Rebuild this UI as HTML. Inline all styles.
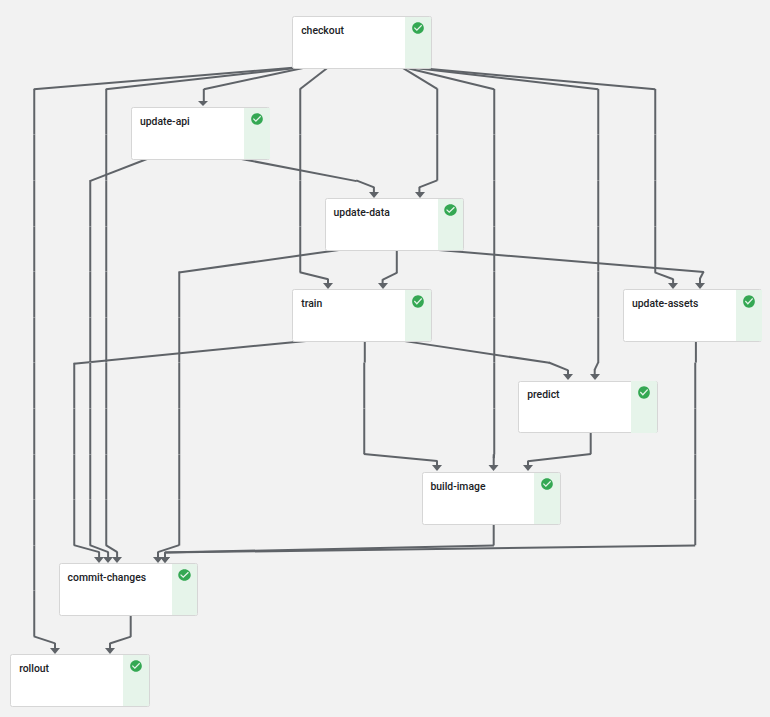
<!DOCTYPE html>
<html lang="en">
<head>
<meta charset="utf-8">
<title>Pipeline graph</title>
<style>
html,body{margin:0;padding:0;background:#f2f2f2;}
body{width:770px;height:717px;overflow:hidden;background:#f2f2f2;font-family:Roboto,"Liberation Sans",Arial,sans-serif;}
#graph{position:relative;width:770px;height:717px;overflow:hidden;background:#f2f2f2;}
#edges{position:absolute;left:0;top:0;}
#edges line{fill:none;stroke:#5f6368;stroke-width:2;stroke-linecap:butt;}
#edges polygon{fill:#5f6368;}
.node{position:absolute;box-sizing:border-box;background:#fff;border:1px solid #d6d6d6;border-radius:2.4px;}
.ibg{position:absolute;background:#e6f4ea;}
.label{position:absolute;font-size:10.4px;font-weight:500;line-height:12.8px;color:#202124;white-space:nowrap;}
.ic{position:absolute;display:block;}
</style>
</head>
<body>
<div id="graph">
<svg id="edges" width="770" height="717" viewBox="0 0 770 717">
<line x1="311.2" y1="66.28" x2="33.8" y2="89.22" stroke-width="1.8"/>
<line x1="34.25" y1="89" x2="34.25" y2="636.6"/>
<line x1="33.81" y1="636.34" x2="55.19" y2="643.36"/>
<line x1="55" y1="642.9" x2="55" y2="648.5"/>
<line x1="311.2" y1="66.28" x2="105.8" y2="89.22" stroke-width="1.8"/>
<line x1="106.25" y1="89" x2="106.25" y2="545.4"/>
<line x1="105.83" y1="545.09" x2="117.27" y2="552.21"/>
<line x1="117.1" y1="551.7" x2="117.1" y2="557.5"/>
<line x1="311.2" y1="66.26" x2="203.8" y2="89.24" stroke-width="1.8"/>
<line x1="203.8" y1="89" x2="203.8" y2="101.7"/>
<line x1="329.56" y1="66.18" x2="299.84" y2="89.32" stroke-width="1.8"/>
<line x1="300.25" y1="89" x2="300.25" y2="272.5"/>
<line x1="299.81" y1="272.25" x2="328.19" y2="279.25"/>
<line x1="328" y1="278.8" x2="328" y2="283.5"/>
<line x1="399.83" y1="66.1" x2="437.17" y2="88.8" stroke-width="1.8"/>
<line x1="437.25" y1="88.5" x2="437.25" y2="180.6"/>
<line x1="437.19" y1="180.33" x2="419.21" y2="187.37"/>
<line x1="419.4" y1="186.9" x2="419.4" y2="192.5"/>
<line x1="399.81" y1="66.25" x2="494.19" y2="89.25" stroke-width="1.8"/>
<line x1="494.25" y1="89" x2="494.25" y2="454.2"/>
<line x1="494.12" y1="454.1" x2="493.78" y2="458.2"/>
<line x1="493.7" y1="454.3" x2="493.7" y2="465.5" stroke-width="2.4"/>
<line x1="399.8" y1="66.28" x2="598.2" y2="89.22" stroke-width="1.8"/>
<line x1="598.25" y1="89" x2="598.25" y2="363"/>
<line x1="598.09" y1="362.62" x2="594.61" y2="369.88"/>
<line x1="594.7" y1="369.3" x2="594.7" y2="374.5"/>
<line x1="399.8" y1="66.28" x2="655.2" y2="89.22" stroke-width="1.8"/>
<line x1="655.25" y1="89" x2="655.25" y2="272.7"/>
<line x1="654.81" y1="272.43" x2="673.29" y2="279.27"/>
<line x1="673.1" y1="278.8" x2="673.1" y2="283.5"/>
<line x1="150.19" y1="157.73" x2="89.81" y2="181.17" stroke-width="1.8"/>
<line x1="90.25" y1="180.3" x2="90.25" y2="545.4"/>
<line x1="89.81" y1="545.13" x2="108.29" y2="552.17"/>
<line x1="108.1" y1="551.7" x2="108.1" y2="557.5"/>
<line x1="238.8" y1="158.46" x2="356.6" y2="181.14" stroke-width="1.8"/>
<line x1="356.21" y1="180.33" x2="374.09" y2="187.37"/>
<line x1="373.9" y1="186.9" x2="373.9" y2="192.5"/>
<line x1="344.2" y1="249.27" x2="178.8" y2="272.43" stroke-width="1.8"/>
<line x1="179.25" y1="271.6" x2="179.25" y2="545.4"/>
<line x1="179.19" y1="545.14" x2="157.81" y2="552.16"/>
<line x1="158" y1="551.7" x2="158" y2="557.5"/>
<line x1="396.8" y1="248.3" x2="396.8" y2="273"/>
<line x1="397.18" y1="272.71" x2="382.42" y2="279.79"/>
<line x1="382.6" y1="279.3" x2="382.6" y2="283.5"/>
<line x1="432.8" y1="249.58" x2="703.8" y2="272.02" stroke-width="1.8"/>
<line x1="703.69" y1="271.42" x2="699.91" y2="278.68"/>
<line x1="700" y1="278.1" x2="700" y2="283.5"/>
<line x1="311.2" y1="340.38" x2="73.8" y2="363.67" stroke-width="1.8"/>
<line x1="74.25" y1="362.85" x2="74.25" y2="545.4"/>
<line x1="73.81" y1="545.15" x2="99.29" y2="552.15"/>
<line x1="99.1" y1="551.7" x2="99.1" y2="557.5"/>
<line x1="364.8" y1="339.5" x2="364.8" y2="362.6"/>
<line x1="364.25" y1="362.6" x2="364.25" y2="454"/>
<line x1="363.8" y1="453.98" x2="437.2" y2="460.92"/>
<line x1="437" y1="460.5" x2="437" y2="465.5"/>
<line x1="399.8" y1="340.37" x2="549.2" y2="362.83" stroke-width="1.8"/>
<line x1="548.81" y1="362.52" x2="568.19" y2="370.38"/>
<line x1="568" y1="369.9" x2="568" y2="374.5"/>
<line x1="695.9" y1="339.5" x2="695.9" y2="362.6"/>
<line x1="695.25" y1="362.6" x2="695.25" y2="545.2"/>
<line x1="695.2" y1="545.4" x2="164.8" y2="552.6"/>
<line x1="165" y1="552.2" x2="165" y2="557.5"/>
<line x1="590.7" y1="431.3" x2="590.7" y2="454.2"/>
<line x1="590.9" y1="453.98" x2="527.8" y2="461.22"/>
<line x1="528" y1="460.8" x2="528" y2="465.5"/>
<line x1="493.7" y1="522.3" x2="493.7" y2="545.4"/>
<line x1="493.9" y1="545.4" x2="164.8" y2="552.6"/>
<line x1="165" y1="552.2" x2="165" y2="557.5"/>
<line x1="130.7" y1="613.3" x2="130.7" y2="636.9"/>
<line x1="130.89" y1="636.64" x2="109.81" y2="643.56"/>
<line x1="110" y1="643.1" x2="110" y2="648.5"/>
<g fill="#f2f2f2" fill-opacity="0.3">
<rect x="33.05" y="134" width="2.4" height="1"/>
<rect x="33.05" y="180" width="2.4" height="1"/>
<rect x="33.05" y="226" width="2.4" height="1"/>
<rect x="33.05" y="271" width="2.4" height="1"/>
<rect x="33.05" y="317" width="2.4" height="1"/>
<rect x="33.05" y="362" width="2.4" height="1"/>
<rect x="33.05" y="408" width="2.4" height="1"/>
<rect x="33.05" y="454" width="2.4" height="1"/>
<rect x="33.05" y="499" width="2.4" height="1"/>
<rect x="33.05" y="545" width="2.4" height="1"/>
<rect x="33.05" y="590" width="2.4" height="1"/>
<rect x="105.05" y="134" width="2.4" height="1"/>
<rect x="105.05" y="180" width="2.4" height="1"/>
<rect x="105.05" y="226" width="2.4" height="1"/>
<rect x="105.05" y="271" width="2.4" height="1"/>
<rect x="105.05" y="317" width="2.4" height="1"/>
<rect x="105.05" y="362" width="2.4" height="1"/>
<rect x="105.05" y="408" width="2.4" height="1"/>
<rect x="105.05" y="454" width="2.4" height="1"/>
<rect x="105.05" y="499" width="2.4" height="1"/>
<rect x="299.05" y="134" width="2.4" height="1"/>
<rect x="299.05" y="180" width="2.4" height="1"/>
<rect x="299.05" y="226" width="2.4" height="1"/>
<rect x="436.05" y="134" width="2.4" height="1"/>
<rect x="493.05" y="134" width="2.4" height="1"/>
<rect x="493.05" y="180" width="2.4" height="1"/>
<rect x="493.05" y="226" width="2.4" height="1"/>
<rect x="493.05" y="271" width="2.4" height="1"/>
<rect x="493.05" y="317" width="2.4" height="1"/>
<rect x="493.05" y="362" width="2.4" height="1"/>
<rect x="493.05" y="408" width="2.4" height="1"/>
<rect x="597.05" y="134" width="2.4" height="1"/>
<rect x="597.05" y="180" width="2.4" height="1"/>
<rect x="597.05" y="226" width="2.4" height="1"/>
<rect x="597.05" y="271" width="2.4" height="1"/>
<rect x="597.05" y="317" width="2.4" height="1"/>
<rect x="654.05" y="134" width="2.4" height="1"/>
<rect x="654.05" y="180" width="2.4" height="1"/>
<rect x="654.05" y="226" width="2.4" height="1"/>
<rect x="89.05" y="226" width="2.4" height="1"/>
<rect x="89.05" y="271" width="2.4" height="1"/>
<rect x="89.05" y="317" width="2.4" height="1"/>
<rect x="89.05" y="362" width="2.4" height="1"/>
<rect x="89.05" y="408" width="2.4" height="1"/>
<rect x="89.05" y="454" width="2.4" height="1"/>
<rect x="89.05" y="499" width="2.4" height="1"/>
<rect x="178.05" y="317" width="2.4" height="1"/>
<rect x="178.05" y="362" width="2.4" height="1"/>
<rect x="178.05" y="408" width="2.4" height="1"/>
<rect x="178.05" y="454" width="2.4" height="1"/>
<rect x="178.05" y="499" width="2.4" height="1"/>
<rect x="73.05" y="408" width="2.4" height="1"/>
<rect x="73.05" y="454" width="2.4" height="1"/>
<rect x="73.05" y="499" width="2.4" height="1"/>
<rect x="363.05" y="408" width="2.4" height="1"/>
<rect x="694.05" y="408" width="2.4" height="1"/>
<rect x="694.05" y="454" width="2.4" height="1"/>
<rect x="694.05" y="499" width="2.4" height="1"/>
</g>
<polygon points="50,648 60,648 55,653.9"/>
<polygon points="112,557 122,557 117,562.9"/>
<polygon points="198,101 208,101 203,105.9"/>
<polygon points="323,283 333,283 328,288.9"/>
<polygon points="415,192 425,192 420,197.9"/>
<polygon points="488.5,465 498.5,465 493.5,470.9"/>
<polygon points="590,374 600,374 595,379.9"/>
<polygon points="668,283 678,283 673,288.9"/>
<polygon points="103,557 113,557 108,562.9"/>
<polygon points="369,192 379,192 374,197.9"/>
<polygon points="153,557 163,557 158,562.9"/>
<polygon points="378,283 388,283 383,288.9"/>
<polygon points="695,283 705,283 700,288.9"/>
<polygon points="94,557 104,557 99,562.9"/>
<polygon points="432,465 442,465 437,470.9"/>
<polygon points="563,374 573,374 568,379.9"/>
<polygon points="160,557 170,557 165,562.9"/>
<polygon points="523,465 533,465 528,470.9"/>
<polygon points="160,557 170,557 165,562.9"/>
<polygon points="105,648 115,648 110,653.9"/>
</svg>
<div class="node" style="left:292px;top:16px;width:140px;height:53px"><div class="ibg" style="left:112px;top:0px;width:26px;height:51px;border-radius:0 1.6px 1.6px 0"></div><div class="label" style="left:8.2px;top:8px">checkout</div><svg class="ic" style="left:118px;top:4px" viewBox="0 0 24 24" preserveAspectRatio="none" width="14" height="14"><path fill="#34a853" d="M12 2C6.48 2 2 6.48 2 12s4.48 10 10 10 10-4.48 10-10S17.52 2 12 2zm-2 15l-5-5 1.41-1.41L10 14.17l7.59-7.59L19 8l-9 9z"/></svg></div>
<div class="node" style="left:131px;top:107px;width:139px;height:53px"><div class="ibg" style="left:112px;top:0px;width:26px;height:51px;border-radius:0 0 0 0"></div><div class="label" style="left:8px;top:8px">update-api</div><svg class="ic" style="left:118px;top:4px" viewBox="0 0 24 24" preserveAspectRatio="none" width="14" height="14"><path fill="#34a853" d="M12 2C6.48 2 2 6.48 2 12s4.48 10 10 10 10-4.48 10-10S17.52 2 12 2zm-2 15l-5-5 1.41-1.41L10 14.17l7.59-7.59L19 8l-9 9z"/></svg></div>
<div class="node" style="left:325px;top:198px;width:139px;height:53px"><div class="ibg" style="left:112px;top:0px;width:25px;height:51px;border-radius:0 1.6px 1.6px 0"></div><div class="label" style="left:7.6px;top:8px">update-data</div><svg class="ic" style="left:117px;top:4px" viewBox="0 0 24 24" preserveAspectRatio="none" width="15" height="14"><path fill="#34a853" d="M12 2C6.48 2 2 6.48 2 12s4.48 10 10 10 10-4.48 10-10S17.52 2 12 2zm-2 15l-5-5 1.41-1.41L10 14.17l7.59-7.59L19 8l-9 9z"/></svg></div>
<div class="node" style="left:292px;top:289px;width:140px;height:53px"><div class="ibg" style="left:112px;top:0px;width:26px;height:51px;border-radius:0 1.6px 1.6px 0"></div><div class="label" style="left:8.2px;top:8px">train</div><svg class="ic" style="left:118px;top:4px" viewBox="0 0 24 24" preserveAspectRatio="none" width="14" height="15"><path fill="#34a853" d="M12 2C6.48 2 2 6.48 2 12s4.48 10 10 10 10-4.48 10-10S17.52 2 12 2zm-2 15l-5-5 1.41-1.41L10 14.17l7.59-7.59L19 8l-9 9z"/></svg></div>
<div class="node" style="left:623px;top:289px;width:139px;height:53px"><div class="ibg" style="left:112px;top:0px;width:26px;height:51px;border-radius:0 0 0 0"></div><div class="label" style="left:8px;top:8px">update-assets</div><svg class="ic" style="left:118px;top:4px" viewBox="0 0 24 24" preserveAspectRatio="none" width="14" height="15"><path fill="#34a853" d="M12 2C6.48 2 2 6.48 2 12s4.48 10 10 10 10-4.48 10-10S17.52 2 12 2zm-2 15l-5-5 1.41-1.41L10 14.17l7.59-7.59L19 8l-9 9z"/></svg></div>
<div class="node" style="left:518px;top:381px;width:140px;height:52px"><div class="ibg" style="left:112px;top:-1px;width:26px;height:52px;border-radius:0 1.6px 1.6px 0"></div><div class="label" style="left:8.2px;top:7px">predict</div><svg class="ic" style="left:118px;top:3px" viewBox="0 0 24 24" preserveAspectRatio="none" width="14" height="15"><path fill="#34a853" d="M12 2C6.48 2 2 6.48 2 12s4.48 10 10 10 10-4.48 10-10S17.52 2 12 2zm-2 15l-5-5 1.41-1.41L10 14.17l7.59-7.59L19 8l-9 9z"/></svg></div>
<div class="node" style="left:422px;top:472px;width:139px;height:53px"><div class="ibg" style="left:111px;top:0px;width:26px;height:51px;border-radius:0 1.6px 1.6px 0"></div><div class="label" style="left:7.4px;top:8px">build-image</div><svg class="ic" style="left:117px;top:4px" viewBox="0 0 24 24" preserveAspectRatio="none" width="14" height="14"><path fill="#34a853" d="M12 2C6.48 2 2 6.48 2 12s4.48 10 10 10 10-4.48 10-10S17.52 2 12 2zm-2 15l-5-5 1.41-1.41L10 14.17l7.59-7.59L19 8l-9 9z"/></svg></div>
<div class="node" style="left:59px;top:563px;width:139px;height:53px"><div class="ibg" style="left:112px;top:0px;width:25px;height:51px;border-radius:0 1.6px 1.6px 0"></div><div class="label" style="left:7.6px;top:8px">commit-changes</div><svg class="ic" style="left:117px;top:4px" viewBox="0 0 24 24" preserveAspectRatio="none" width="15" height="14"><path fill="#34a853" d="M12 2C6.48 2 2 6.48 2 12s4.48 10 10 10 10-4.48 10-10S17.52 2 12 2zm-2 15l-5-5 1.41-1.41L10 14.17l7.59-7.59L19 8l-9 9z"/></svg></div>
<div class="node" style="left:10px;top:654px;width:140px;height:53px"><div class="ibg" style="left:112px;top:0px;width:26px;height:51px;border-radius:0 1.6px 1.6px 0"></div><div class="label" style="left:8.2px;top:8px">rollout</div><svg class="ic" style="left:118px;top:4px" viewBox="0 0 24 24" preserveAspectRatio="none" width="14" height="14"><path fill="#34a853" d="M12 2C6.48 2 2 6.48 2 12s4.48 10 10 10 10-4.48 10-10S17.52 2 12 2zm-2 15l-5-5 1.41-1.41L10 14.17l7.59-7.59L19 8l-9 9z"/></svg></div>
</div>
</body>
</html>
